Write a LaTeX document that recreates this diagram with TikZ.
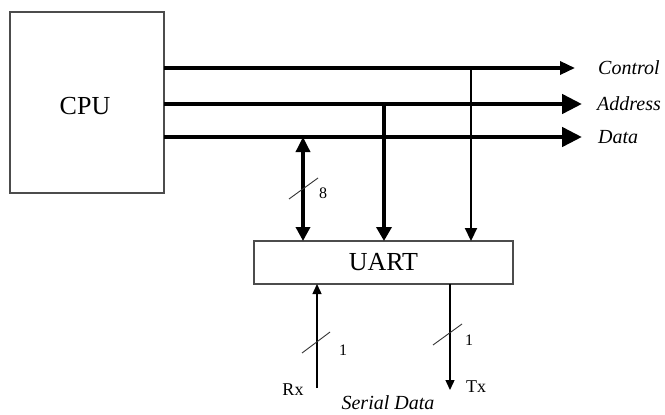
\documentclass[tikz,border=0pt]{standalone}
\usepackage{fontspec}
\setmainfont{Liberation Serif}
\usetikzlibrary{arrows.meta}
\begin{document}
\begin{tikzpicture}[x=1pt,y=-1pt,
  box/.style={draw=black!70,line width=1.3pt,outer sep=0pt,inner sep=0pt,font=\fontsize{26}{30}\selectfont},
  busA/.style={line width=4.6pt,-{Triangle[length=20pt,width=19pt]}},
  busC/.style={line width=3.4pt,-{Triangle[length=15pt,width=13pt]}},
  dropA/.style={line width=3.4pt,-{Triangle[length=14pt,width=15pt]}},
  dropB/.style={line width=3.4pt,{Triangle[length=15pt,width=14pt]}-{Triangle[length=14pt,width=14pt]}},
  dropC/.style={line width=2.2pt,-{Triangle[length=13pt,width=12pt]}},
  serial/.style={line width=1.4pt,-{Triangle[length=10pt,width=9pt]}},
  slash/.style={line width=0.9pt,black!80},
  lab/.style={font=\fontsize{20}{24}\selectfont\itshape,anchor=west,inner sep=0pt},
  num/.style={font=\fontsize{16}{19}\selectfont,inner sep=0pt},
  pin/.style={font=\fontsize{18}{21}\selectfont,inner sep=0pt}]
\useasboundingbox[fill=white] (0,0) rectangle (665,415);
% boxes
\node[box,minimum width=154pt,minimum height=181pt,anchor=north west] (cpu) at (10,12) {};
\node[font=\fontsize{26}{30}\selectfont] (cputxt) at (85,106) {CPU};
\node[box,minimum width=259pt,minimum height=43pt,anchor=north west] (uart) at (254,241) {UART};
% bus endpoints
\coordinate (ctlE) at (575,68);
\coordinate (adrE) at (582,104);
\coordinate (datE) at (582,137);
\draw[busC] (cpu.east |- ctlE) -- (ctlE);
\draw[busA] (cpu.east |- adrE) -- (adrE);
\draw[busA] (cpu.east |- datE) -- (datE);
\node[lab] (ctlL) at (598,68) {Control};
\node[lab] (adrL) at (597,104) {Address};
\node[lab] (datL) at (598,137) {Data};
% drops to UART
\coordinate (ctlT) at (471,68);
\coordinate (adrT) at (384,104);
\coordinate (datT) at (303,137);
\draw[dropC] (ctlT) -- (ctlT |- uart.north);
\draw[dropA] (adrT) -- (adrT |- uart.north);
\draw[dropB] (datT) -- (datT |- uart.north);
\draw[slash] (289,199) -- (318,178);
\node[num] (n8) at (323,193) {8};
% serial lines
\coordinate (rxB) at (317,388);
\coordinate (txB) at (450,390);
\draw[serial] (rxB) -- (rxB |- uart.south);
\draw[serial] (txB |- uart.south) -- (txB);
\draw[slash] (302,353) -- (330,332);
\node[num] (n1a) at (343,350) {1};
\draw[slash] (433,345) -- (462,324);
\node[num] (n1b) at (469,340) {1};
\node[pin] (rx) at (293,390) {Rx};
\node[pin] (tx) at (476,387) {Tx};
\node[font=\fontsize{20}{24}\selectfont\itshape,inner sep=0pt] (sd) at (388,403) {Serial Data};
\end{tikzpicture}
\end{document}
